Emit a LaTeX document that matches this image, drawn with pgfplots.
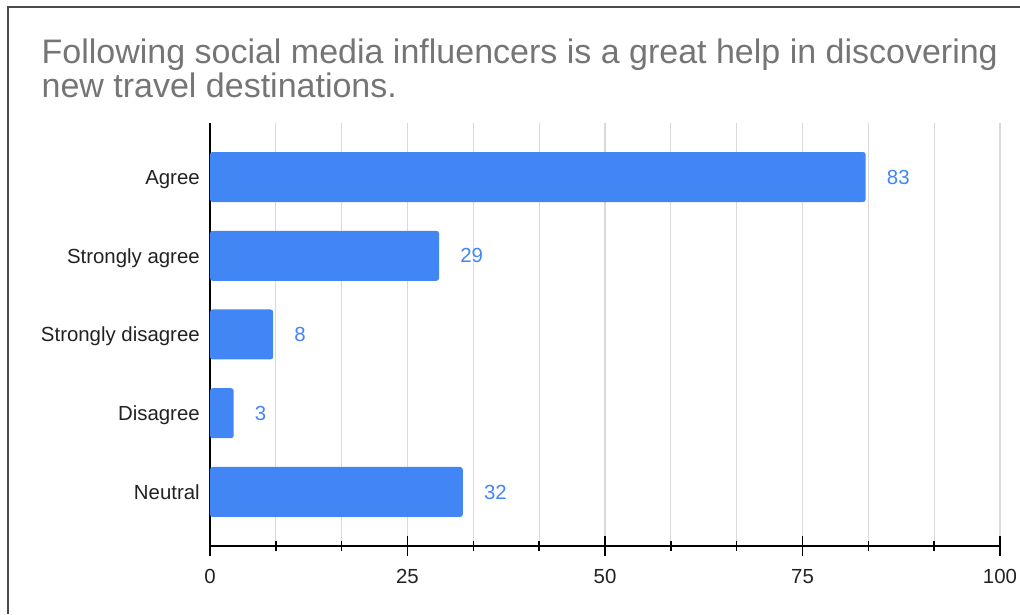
\documentclass[border=0pt]{standalone}
\usepackage{pgfplots}
\pgfplotsset{compat=1.18}
\usepackage{fontspec}
\setmainfont{Liberation Sans}

\definecolor{barblue}{HTML}{4285F4}
\definecolor{titlegray}{HTML}{757575}
\definecolor{gridgray}{HTML}{D9D9D9}
\definecolor{framegray}{HTML}{4A4A4A}
\definecolor{labeldark}{HTML}{222222}

\begin{document}
\begin{tikzpicture}
% canvas and card frame
\path[use as bounding box] (0,0) rectangle (765pt,460.5pt);
\draw[framegray, line width=1.5pt] (6pt,0) -- (6pt,455.25pt) -- (766pt,455.25pt);

% title
\node[anchor=base west, inner sep=0, text=titlegray, font=\fontsize{25.5}{30}\selectfont]
  at (31pt,412.5pt) {Following social media influencers is a great help in discovering};
\node[anchor=base west, inner sep=0, text=titlegray, font=\fontsize{25.5}{30}\selectfont]
  at (31pt,387.5pt) {new travel destinations.};

\begin{axis}[
  at={(157.5pt,51pt)}, anchor=south west,
  scale only axis, width=592.5pt, height=317.25pt,
  xbar, bar width=37.5pt,
  xmin=0, xmax=100, ymin=-0.686, ymax=4.686,
  enlargelimits=false,
  axis x line*=bottom, axis y line*=left,
  axis line style={black, line width=1.2pt},
  xtick={0,25,50,75,100},
  minor x tick num=2,
  xmajorgrids, xminorgrids,
  major grid style={gridgray, line width=0.8pt},
  minor grid style={gridgray, line width=0.8pt},
  tick align=center,
  major tick length=15pt, minor tick length=7pt,
  every tick/.style={black, line width=1.1pt},
  ytick={0,1,2,3,4},
  yticklabels={Neutral,Disagree,Strongly disagree,Strongly agree,Agree},
  ytick style={draw=none},
  /pgf/number format/assume math mode=true,
  xticklabel style={font=\fontsize{15.3}{18}\selectfont, text=labeldark, inner sep=0, yshift=-10pt},
  yticklabel style={font=\fontsize{15.3}{18}\selectfont, text=labeldark, inner sep=0,
    text depth=0pt, xshift=0pt},
  nodes near coords,
  every node near coord/.append style={anchor=west, inner sep=0, xshift=15.75pt,
    font=\fontsize{15.3}{18}\selectfont, text=barblue},
]
\addplot[draw=none, fill=barblue, rounded corners=2pt] coordinates {
  (32,0) (3,1) (8,2) (29,3) (83,4)
};
\end{axis}
\end{tikzpicture}
\end{document}
